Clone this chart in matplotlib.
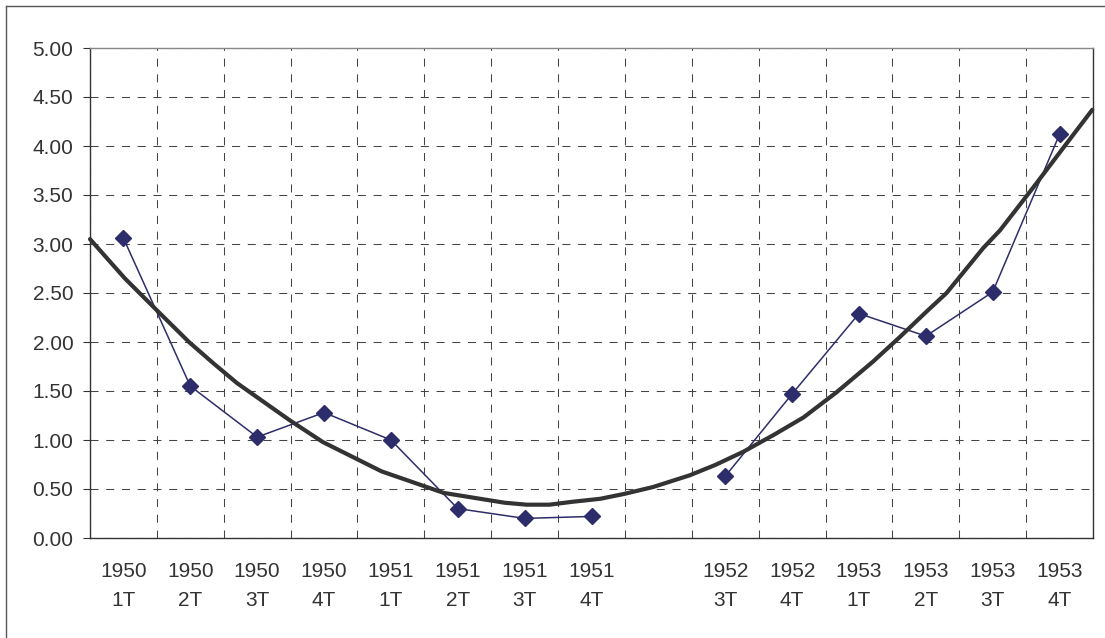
import numpy as np
import matplotlib
matplotlib.use('Agg')
import matplotlib.pyplot as plt
from matplotlib.lines import Line2D

# quarters on the x axis (one empty slot between 1951 4T and 1952 3T)
categories = ['1950\n1T', '1950\n2T', '1950\n3T', '1950\n4T',
              '1951\n1T', '1951\n2T', '1951\n3T', '1951\n4T',
              '',
              '1952\n3T', '1952\n4T', '1953\n1T', '1953\n2T', '1953\n3T', '1953\n4T']
values = [3.06, 1.55, 1.03, 1.28, 1.00, 0.30, 0.20, 0.22,
          np.nan,
          0.63, 1.47, 2.29, 2.06, 2.51, 4.12]

# trend curve (x in category units)
trend_x = [-0.5, 0.02, 0.49, 0.98, 1.35, 1.70, 2.49, 2.98, 3.86, 4.79, 5.70,
           6.03, 6.37, 6.72, 7.13, 7.49, 7.92, 8.47, 8.85, 9.27, 9.72, 10.17,
           10.67, 11.21, 11.61, 12.01, 12.31, 12.86, 13.11, 13.61, 14.11, 14.49]
trend_y = [3.05, 2.65, 2.33, 2.00, 1.78, 1.58, 1.20, 0.98, 0.68, 0.46, 0.36,
           0.34, 0.34, 0.37, 0.40, 0.45, 0.52, 0.64, 0.745, 0.88, 1.05, 1.23,
           1.49, 1.80, 2.05, 2.31, 2.50, 2.96, 3.14, 3.58, 4.03, 4.37]

yticks = [0.0, 0.5, 1.0, 1.5, 2.0, 2.5, 3.0, 3.5, 4.0, 4.5, 5.0]

plt.rcParams['font.family'] = ['Liberation Sans', 'DejaVu Sans']
text_col = '#333333'
grid_dash = (0, (7.7, 7.4))

fig = plt.figure(figsize=(11.05, 6.38), dpi=100)
ax = fig.add_axes([90 / 1105, 1 - 538 / 638, 1003 / 1105, 490 / 638])

x = np.arange(len(categories))
ax.plot(x, values, color='#2E2D6B', linewidth=1.1, marker='D',
        markersize=8, markerfacecolor='#2E2D6B', markeredgecolor='#2E2D6B', zorder=3)
ax.plot(trend_x, trend_y, color='#333333', linewidth=3.0, zorder=4,
        solid_capstyle='round', clip_on=False)

ax.set_xlim(-0.5, len(categories) - 0.5)
ax.set_ylim(0, 5)
ax.set_yticks(yticks)
ax.set_yticklabels(['%.2f' % t for t in yticks])
ax.set_xticks(x)
ax.set_xticklabels(categories, linespacing=1.7)

# grid on the category boundaries
ax.set_xticks(np.arange(len(categories) + 1) - 0.5, minor=True)
ax.grid(True, which='minor', axis='x', color='#444444', linestyle=grid_dash, linewidth=0.75)
ax.grid(True, which='major', axis='y', color='#444444', linestyle=grid_dash, linewidth=0.75)
ax.set_axisbelow(True)

ax.tick_params(axis='y', direction='out', length=5, width=0.8, pad=7,
               labelsize=15, colors=text_col)
ax.tick_params(axis='x', which='both', length=0, pad=17, labelsize=15, colors=text_col)

for s in ['left', 'bottom', 'right']:
    ax.spines[s].set_color('#333333')
    ax.spines[s].set_linewidth(1.0)
ax.spines['top'].set_color('#888888')
ax.spines['top'].set_linewidth(1.0)

# outer chart frame
fig.add_artist(Line2D([6 / 1105, 6 / 1105], [0, 1 - 6 / 638], color='#555555', linewidth=1.0))
fig.add_artist(Line2D([6 / 1105, 1], [1 - 6 / 638, 1 - 6 / 638], color='#555555', linewidth=1.0))

fig.savefig('out.png', dpi=100)
